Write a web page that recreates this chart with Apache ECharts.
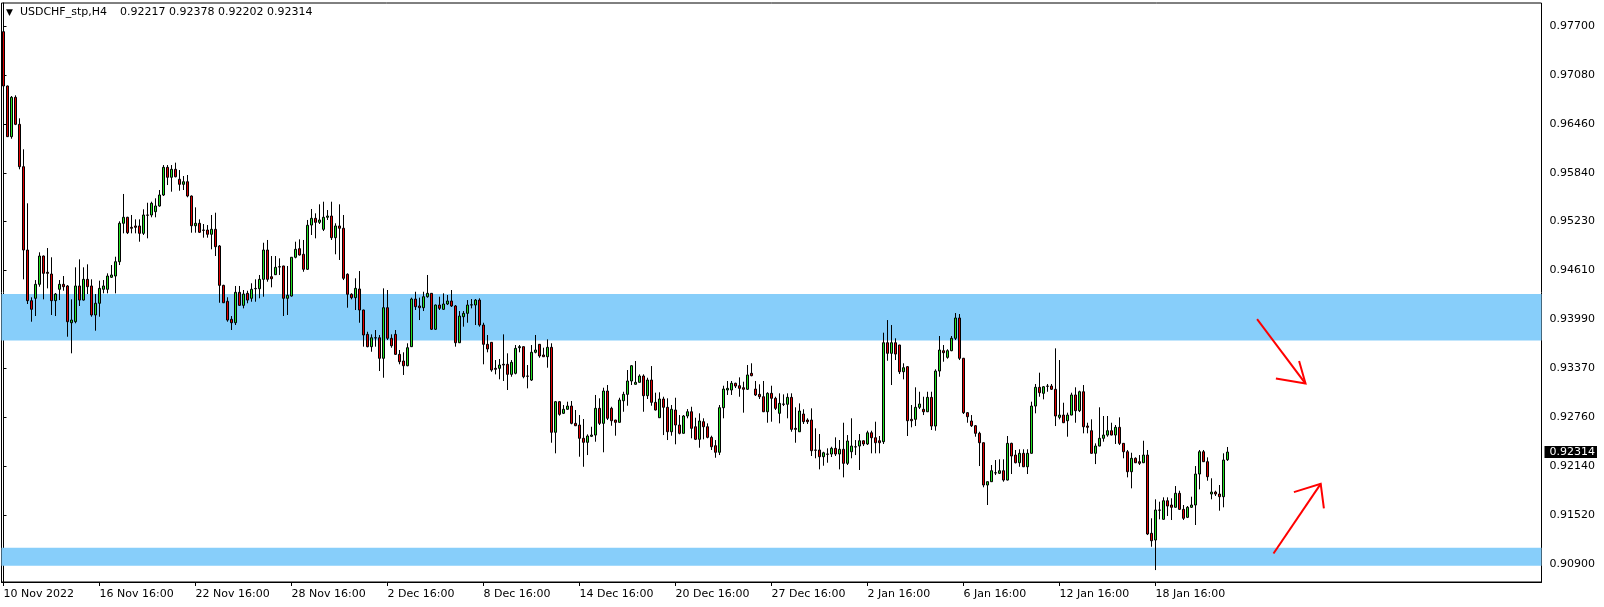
<!DOCTYPE html>
<html><head><meta charset="utf-8">
<script src="https://cdn.jsdelivr.net/npm/echarts@6/dist/echarts.min.js"></script>
<style>html,body{margin:0;padding:0;background:#fff;} #c{width:1604px;height:607px;}</style>
</head><body><div id="c"></div>
<script>
const symbolName = 'USDCHF_stp,H4';
const lastBarText = '0.92217 0.92378 0.92202 0.92314';

const opens = [
0.97632,0.96945,0.96304,0.96802,0.96460,0.95924,0.94870,0.94229,0.94259,0.94436,
0.94794,0.94588,0.94566,0.94229,0.94373,0.94436,0.94415,0.93950,0.93963,0.94415,
0.94237,0.94499,0.94415,0.94048,0.94196,0.94373,0.94373,0.94525,0.94541,0.94722,
0.95208,0.95284,0.95157,0.95174,0.95174,0.95081,0.95313,0.95313,0.95355,0.95427,
0.95566,0.95916,0.95790,0.95891,0.95765,0.95701,0.95734,0.95553,0.95177,0.95208,
0.95123,0.95123,0.95069,0.95132,0.94921,0.94423,0.94221,0.93993,0.93950,0.94335,
0.94170,0.94322,0.94259,0.94380,0.94380,0.94499,0.94870,0.94532,0.94558,0.94659,
0.94668,0.94259,0.94288,0.94778,0.94887,0.94816,0.94626,0.95186,0.95271,0.95220,
0.95132,0.95284,0.95300,0.95026,0.95174,0.95145,0.94563,0.94310,0.94267,0.94377,
0.94111,0.93803,0.93647,0.93760,0.93760,0.93500,0.94140,0.93753,0.93803,0.93550,
0.93466,0.93406,0.93647,0.94250,0.94162,0.94140,0.94279,0.94322,0.93867,0.94174,
0.94120,0.94187,0.94225,0.94162,0.93697,0.94026,0.94069,0.94174,0.94174,0.94237,
0.93921,0.93677,0.93702,0.93373,0.93373,0.93424,0.93424,0.93297,0.93310,0.93634,
0.93647,0.93276,0.93225,0.93576,0.93677,0.93542,0.93520,0.93639,0.92564,0.92951,
0.92804,0.92855,0.92896,0.92677,0.92656,0.92488,0.92437,0.92513,0.92529,0.92867,
0.92677,0.93086,0.92867,0.92719,0.92690,0.92963,0.93044,0.93213,0.93171,0.93196,
0.93276,0.93027,0.93225,0.92943,0.92748,0.92985,0.92880,0.92571,0.92846,0.92656,
0.92551,0.92770,0.92824,0.92634,0.92475,0.92698,0.92634,0.92500,0.92394,0.92311,
0.92875,0.93099,0.93099,0.93184,0.93153,0.93128,0.93108,0.93310,0.93111,0.93044,
0.93014,0.92824,0.93057,0.92994,0.92804,0.92922,0.92918,0.93006,0.92614,0.92571,
0.92795,0.92719,0.92719,0.92340,0.92340,0.92255,0.92289,0.92289,0.92361,0.92289,
0.92349,0.92171,0.92318,0.92381,0.92390,0.92457,0.92416,0.92558,0.92495,0.92457,
0.92445,0.93697,0.93563,0.93697,0.93668,0.93330,0.93394,0.92728,0.92728,0.92880,
0.92855,0.92824,0.93006,0.92643,0.93339,0.93596,0.93512,0.93596,0.93753,0.94010,
0.93500,0.92812,0.92707,0.92647,0.92551,0.92432,0.91897,0.91939,0.92052,0.92045,
0.92078,0.91960,0.92424,0.92276,0.92179,0.92298,0.92128,0.92298,0.92896,0.93133,
0.93057,0.93149,0.93149,0.93108,0.92753,0.92782,0.92710,0.92782,0.93036,0.92837,
0.93077,0.92643,0.92584,0.92298,0.92390,0.92488,0.92529,0.92584,0.92529,0.92627,
0.92424,0.92318,0.92065,0.92235,0.92192,0.92179,0.92276,0.91286,0.91201,0.91581,
0.91463,0.91698,0.91644,0.91615,0.91792,0.91589,0.91488,0.91615,0.91644,0.92036,
0.92318,0.92192,0.91783,0.91808,0.91783,0.91749,0.92217
];
const highs = [
0.97641,0.96950,0.96818,0.96827,0.96536,0.96144,0.95461,0.94272,0.94490,0.94841,
0.94800,0.94895,0.94778,0.94326,0.94490,0.94541,0.94427,0.94246,0.94651,0.94752,
0.94651,0.94689,0.94499,0.94313,0.94482,0.94490,0.94575,0.94680,0.94785,0.95233,
0.95579,0.95290,0.95313,0.95258,0.95258,0.95385,0.95468,0.95481,0.95524,0.95629,
0.95945,0.95945,0.95945,0.95975,0.95882,0.95806,0.95819,0.95560,0.95410,0.95258,
0.95199,0.95186,0.95313,0.95342,0.94933,0.94430,0.94272,0.94035,0.94415,0.94415,
0.94364,0.94355,0.94449,0.94499,0.94554,0.94962,0.94997,0.94794,0.94794,0.94765,
0.94670,0.94668,0.94780,0.94975,0.95005,0.94997,0.95250,0.95389,0.95334,0.95448,
0.95481,0.95376,0.95481,0.95208,0.95448,0.95313,0.94575,0.94322,0.94512,0.94604,
0.94115,0.93836,0.93803,0.93858,0.93795,0.94385,0.94364,0.93803,0.93858,0.93605,
0.93576,0.93690,0.94267,0.94342,0.94267,0.94342,0.94554,0.94325,0.94180,0.94279,
0.94322,0.94301,0.94364,0.94174,0.94098,0.94098,0.94237,0.94250,0.94250,0.94259,
0.93950,0.93795,0.93705,0.93478,0.93491,0.93803,0.93563,0.93478,0.93668,0.93668,
0.93650,0.93415,0.93668,0.93795,0.93680,0.93634,0.93740,0.93690,0.92960,0.92960,
0.92909,0.92951,0.92960,0.92846,0.92782,0.92732,0.92538,0.92634,0.93036,0.92994,
0.93128,0.93162,0.92887,0.92722,0.93001,0.93077,0.93352,0.93415,0.93466,0.93297,
0.93297,0.93254,0.93402,0.93065,0.93070,0.93014,0.92994,0.92909,0.93001,0.92782,
0.92782,0.92858,0.92887,0.92748,0.92804,0.92741,0.92677,0.92521,0.92466,0.92909,
0.93153,0.93213,0.93213,0.93191,0.93259,0.93204,0.93415,0.93437,0.93213,0.93171,
0.93213,0.93070,0.93153,0.93014,0.93057,0.93044,0.93057,0.93057,0.92880,0.92930,
0.92855,0.92741,0.92867,0.92614,0.92542,0.92318,0.92361,0.92381,0.92500,0.92466,
0.92685,0.92529,0.92741,0.92466,0.92542,0.92460,0.92584,0.92584,0.92698,0.92517,
0.93824,0.93984,0.93921,0.93753,0.93670,0.93437,0.93402,0.92909,0.93133,0.93077,
0.93014,0.93077,0.93077,0.93361,0.93782,0.93668,0.93614,0.93782,0.94073,0.94060,
0.93505,0.92820,0.92782,0.92656,0.92571,0.92435,0.91942,0.92150,0.92213,0.92222,
0.92222,0.92517,0.92432,0.92340,0.92349,0.92349,0.92349,0.92951,0.93175,0.93318,
0.93149,0.93175,0.93175,0.93626,0.93478,0.92938,0.92812,0.93065,0.93133,0.93090,
0.93162,0.92685,0.92728,0.92424,0.92880,0.92770,0.92770,0.92685,0.92656,0.92753,
0.92427,0.92340,0.92305,0.92247,0.92276,0.92457,0.92340,0.91476,0.91716,0.91686,
0.91741,0.91741,0.91729,0.91884,0.91825,0.91644,0.91631,0.91749,0.92137,0.92340,
0.92340,0.92247,0.91982,0.91825,0.91897,0.92298,0.92378
];
const lows = [
0.96600,0.96300,0.96278,0.96450,0.95891,0.94499,0.94187,0.93963,0.94035,0.94406,
0.94246,0.94385,0.94048,0.94035,0.94237,0.94355,0.93773,0.93563,0.93943,0.94162,
0.94230,0.94313,0.94026,0.93849,0.94026,0.94322,0.94322,0.94516,0.94322,0.94680,
0.95081,0.95072,0.95081,0.95081,0.94975,0.95060,0.95018,0.95284,0.95284,0.95418,
0.95553,0.95692,0.95608,0.95790,0.95620,0.95629,0.95537,0.95089,0.95089,0.95085,
0.95026,0.95026,0.94879,0.94794,0.94203,0.94199,0.93963,0.93858,0.93921,0.94165,
0.94132,0.94196,0.94216,0.94216,0.94259,0.94279,0.94469,0.94398,0.94554,0.94554,
0.94035,0.94048,0.94280,0.94765,0.94800,0.94595,0.94617,0.95060,0.95018,0.95199,
0.95110,0.95250,0.94997,0.94816,0.94744,0.94490,0.94140,0.94246,0.94111,0.93950,
0.93647,0.93640,0.93583,0.93647,0.93339,0.93254,0.93731,0.93634,0.93542,0.93424,
0.93289,0.93400,0.93643,0.94111,0.93984,0.94098,0.94267,0.93858,0.93858,0.94111,
0.94111,0.94174,0.94149,0.93647,0.93693,0.93900,0.93950,0.94132,0.93921,0.93900,
0.93424,0.93576,0.93330,0.93297,0.93234,0.93213,0.93099,0.93267,0.93297,0.93576,
0.93247,0.93120,0.93213,0.93563,0.93507,0.93516,0.93381,0.92432,0.92298,0.92774,
0.92795,0.92850,0.92665,0.92643,0.92255,0.92128,0.92276,0.92504,0.92445,0.92656,
0.92311,0.92719,0.92647,0.92521,0.92687,0.92824,0.92900,0.93162,0.93168,0.93193,
0.92824,0.92985,0.92900,0.92840,0.92745,0.92529,0.92466,0.92521,0.92412,0.92538,
0.92548,0.92741,0.92488,0.92466,0.92369,0.92475,0.92488,0.92340,0.92242,0.92276,
0.92741,0.93036,0.93036,0.93124,0.93014,0.92812,0.93099,0.93273,0.93023,0.92985,
0.92820,0.92685,0.92698,0.92846,0.92677,0.92896,0.92741,0.92571,0.92432,0.92568,
0.92669,0.92669,0.92264,0.92235,0.92095,0.92141,0.92179,0.92251,0.92264,0.92095,
0.91994,0.92150,0.92235,0.92276,0.92087,0.92390,0.92403,0.92298,0.92298,0.92298,
0.92416,0.93469,0.93162,0.93478,0.93301,0.93234,0.92517,0.92627,0.92643,0.92858,
0.92782,0.92820,0.92593,0.92584,0.93267,0.93457,0.93495,0.93590,0.93731,0.93478,
0.92795,0.92685,0.92631,0.92508,0.92137,0.91868,0.91644,0.91935,0.92023,0.92036,
0.91939,0.91955,0.92036,0.92171,0.92128,0.92124,0.92036,0.92295,0.92804,0.93014,
0.92981,0.93077,0.93099,0.92643,0.92728,0.92681,0.92508,0.92779,0.92685,0.92820,
0.92551,0.92551,0.92295,0.92162,0.92387,0.92445,0.92508,0.92526,0.92416,0.92403,
0.92235,0.91994,0.91855,0.92175,0.92150,0.92175,0.91264,0.91116,0.90821,0.91463,
0.91460,0.91505,0.91454,0.91612,0.91581,0.91454,0.91479,0.91606,0.91391,0.91842,
0.92188,0.91951,0.91716,0.91758,0.91572,0.91615,0.92202
];
const closes = [
0.96945,0.96304,0.96802,0.96460,0.95924,0.94870,0.94229,0.94120,0.94436,0.94794,
0.94575,0.94575,0.94229,0.94313,0.94436,0.94406,0.93963,0.93984,0.94415,0.94237,
0.94499,0.94406,0.94048,0.94196,0.94385,0.94415,0.94541,0.94554,0.94722,0.95208,
0.95284,0.95089,0.95145,0.95157,0.95081,0.95313,0.95310,0.95461,0.95427,0.95566,
0.95916,0.95790,0.95891,0.95797,0.95701,0.95734,0.95553,0.95177,0.95208,0.95094,
0.95119,0.95069,0.95132,0.94912,0.94423,0.94203,0.93984,0.93950,0.94335,0.94170,
0.94313,0.94237,0.94373,0.94384,0.94499,0.94870,0.94499,0.94507,0.94651,0.94655,
0.94259,0.94297,0.94778,0.94879,0.94807,0.94626,0.95183,0.95271,0.95220,0.95250,
0.95284,0.95300,0.95026,0.95174,0.95145,0.94512,0.94310,0.94267,0.94385,0.94111,
0.93795,0.93647,0.93760,0.93757,0.93500,0.94140,0.93753,0.93659,0.93550,0.93457,
0.93406,0.93634,0.94250,0.94153,0.94140,0.94279,0.94322,0.93867,0.94174,0.94132,
0.94187,0.94225,0.94162,0.93697,0.94035,0.94069,0.94174,0.94177,0.94237,0.93921,
0.93677,0.93618,0.93352,0.93361,0.93415,0.93415,0.93297,0.93449,0.93626,0.93647,
0.93267,0.93273,0.93576,0.93605,0.93529,0.93520,0.93639,0.92564,0.92951,0.92791,
0.92855,0.92896,0.92677,0.92647,0.92488,0.92437,0.92517,0.92529,0.92867,0.92677,
0.93086,0.92741,0.92710,0.92690,0.92972,0.93044,0.93213,0.93406,0.93196,0.93276,
0.93027,0.93225,0.92943,0.92846,0.92985,0.92880,0.92571,0.92855,0.92656,0.92551,
0.92770,0.92824,0.92614,0.92475,0.92707,0.92634,0.92500,0.92381,0.92311,0.92875,
0.93111,0.93120,0.93184,0.93149,0.93120,0.93108,0.93289,0.93280,0.93036,0.93014,
0.92824,0.93057,0.92994,0.92867,0.92930,0.92918,0.93006,0.92601,0.92601,0.92833,
0.92698,0.92698,0.92331,0.92337,0.92255,0.92305,0.92286,0.92361,0.92289,0.92349,
0.92171,0.92454,0.92390,0.92378,0.92457,0.92416,0.92558,0.92495,0.92432,0.92432,
0.93697,0.93563,0.93697,0.93554,0.93330,0.93381,0.92710,0.92710,0.92880,0.92922,
0.92824,0.93006,0.92643,0.93339,0.93605,0.93571,0.93596,0.93753,0.94010,0.93500,
0.92812,0.92761,0.92647,0.92551,0.92432,0.91897,0.91939,0.92078,0.92049,0.92078,
0.91960,0.92424,0.92264,0.92179,0.92298,0.92128,0.92298,0.92896,0.93133,0.93065,
0.93140,0.93146,0.93108,0.92770,0.92782,0.92685,0.92782,0.93036,0.92837,0.93077,
0.92634,0.92627,0.92298,0.92390,0.92488,0.92529,0.92584,0.92529,0.92627,0.92424,
0.92318,0.92065,0.92235,0.92179,0.92171,0.92276,0.91277,0.91192,0.91581,0.91578,
0.91698,0.91631,0.91615,0.91792,0.91589,0.91476,0.91615,0.91644,0.92036,0.92318,
0.92192,0.92002,0.91808,0.91783,0.91749,0.92213,0.92314
];

const slotCount = 385;
const xTickIndex = [0,24,48,72,96,120,144,168,192,216,240,264,288];
const xTickLabels = ['10 Nov 2022','16 Nov 16:00','22 Nov 16:00','28 Nov 16:00','2 Dec 16:00','8 Dec 16:00','14 Dec 16:00','20 Dec 16:00','27 Dec 16:00','2 Jan 16:00','6 Jan 16:00','12 Jan 16:00','18 Jan 16:00'];
const yTickLabels = ['0.97700','0.97080','0.96460','0.95840','0.95230','0.94610','0.93990','0.93370','0.92760','0.92140','0.91520','0.90900'];
const lastPrice = 0.92314;
const yMin = 0.90670, yMax = 0.97995;
const zones = [[0.94313, 0.93725], [0.91104, 0.90876]];
const arrowShafts = [
  [[313.4, 0.93995], [325.5, 0.93180]],
  [[317.5, 0.91031], [329.3, 0.91911]]
];
const arrowHeads = [
  [[318.1, 0.93244], [325.5, 0.93180], [323.9, 0.93466]],
  [[322.6, 0.91807], [329.3, 0.91911], [330.1, 0.91601]]
];

const FONT = 'DejaVu Sans';
const categories = [];
for (let i = 0; i < slotCount; i++) categories.push(String(i));
const ohlc = opens.map((o, i) => [o, closes[i], lows[i], highs[i]]);
const showTick = (idx) => xTickIndex.indexOf(idx) >= 0;
const yTicks = yTickLabels.map(Number);

const chart = echarts.init(document.getElementById('c'), null, {renderer: 'canvas'});
chart.setOption({
  animation: false,
  backgroundColor: '#ffffff',
  title: {
    left: 6, top: 7, padding: 0,
    text: '{tri|▼}  ' + symbolName + '{gap| }' + lastBarText,
    textStyle: {
      fontFamily: FONT, fontSize: 11, fontWeight: 'normal', color: '#000',
      rich: {
        tri: { fontSize: 9, color: '#000', fontFamily: FONT },
        gap: { width: 13, fontSize: 11, fontFamily: FONT }
      }
    }
  },
  grid: { left: 1.5, top: 3, width: 1540, height: 579, show: true, borderColor: '#000', borderWidth: 1, backgroundColor: 'transparent', containLabel: false },
  xAxis: [
    {
      type: 'category', data: categories, boundaryGap: true,
      axisLine: { show: true, lineStyle: { color: '#000', width: 1 } },
      axisTick: { show: true, alignWithLabel: true, interval: (idx) => showTick(idx), length: 4, lineStyle: { color: '#000' } },
      axisLabel: {
        interval: (idx) => showTick(idx),
        formatter: (v, idx) => { const k = xTickIndex.indexOf(idx); return k >= 0 ? xTickLabels[k] : ''; },
        align: 'left', margin: 7, color: '#000', fontFamily: FONT, fontSize: 11
      },
      splitLine: { show: false }
    },
    { type: 'value', min: -0.5, max: slotCount - 0.5, show: false, position: 'top' }
  ],
  yAxis: [
    {
      type: 'value', position: 'right', min: yMin, max: yMax, scale: true,
      axisLine: { show: true, lineStyle: { color: '#000', width: 1 } },
      axisTick: { show: true, length: 3, customValues: yTicks, lineStyle: { color: '#000' } },
      axisLabel: { customValues: yTicks, formatter: (v) => Number(v).toFixed(5), margin: 8, color: '#000', fontFamily: FONT, fontSize: 11 },
      splitLine: { show: false }
    },
    {
      type: 'value', position: 'right', min: yMin, max: yMax, scale: true,
      axisLine: { show: false }, axisTick: { show: false }, splitLine: { show: false },
      axisLabel: { customValues: [lastPrice], formatter: (v) => Number(v).toFixed(5), margin: 3,
        backgroundColor: '#000', color: '#fff', padding: [1, 2, 0, 5], fontFamily: FONT, fontSize: 11 }
    }
  ],
  series: [
    {
      type: 'candlestick', xAxisIndex: 0, yAxisIndex: 0, data: ohlc, barWidth: 2, z: 3,
      itemStyle: { color: '#22E022', color0: '#E00000', borderColor: '#000', borderColor0: '#000', borderColorDoji: '#000', borderWidth: 1 },
      emphasis: { disabled: true },
      markArea: {
        silent: true, z: 1,
        itemStyle: { color: '#87CEFA', opacity: 1, borderWidth: 0 },
        data: zones.map(z => [{ yAxis: z[0] }, { yAxis: z[1] }])
      }
    },
    {
      type: 'lines', coordinateSystem: 'cartesian2d', xAxisIndex: 1, yAxisIndex: 0, polyline: true, silent: true, z: 5,
      lineStyle: { color: '#FF0000', width: 2, opacity: 1 },
      data: arrowShafts.concat(arrowHeads).map(c => ({ coords: c }))
    }
  ]
});
</script>
</body></html>
